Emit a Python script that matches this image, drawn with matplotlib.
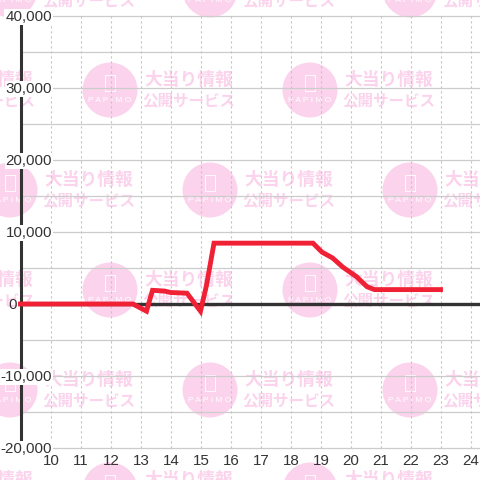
import matplotlib
matplotlib.use("Agg")
import matplotlib.pyplot as plt
from matplotlib.patches import Circle, Rectangle

# values
hours = [9, 12.75, 13.2, 13.4, 13.8, 14, 14.55, 15, 15.2, 15.45, 18.75,
         19.05, 19.4, 19.75, 20.2, 20.55, 20.8, 23]
values = [0, 0, -1000, 1900, 1800, 1600, 1500, -1000, 2600, 8450, 8450,
          7200, 6400, 5100, 3800, 2400, 2000, 2000]
x_ticks = list(range(10, 25))
y_ticks = [40000, 30000, 20000, 10000, 0, -10000, -20000]
y_grid = list(range(-20000, 40001, 5000))
stamp_centers = [(10, -10), (210, -10), (410, -10),
                 (-90, 90), (110, 90), (310, 90),
                 (10, 190), (210, 190), (410, 190),
                 (-90, 290), (110, 290), (310, 290),
                 (10, 390), (210, 390), (410, 390),
                 (-90, 490), (110, 490), (310, 490)]

PINK = "#FBD3EC"
DARK = "#333333"
SANS = "Liberation Sans"

fig = plt.figure(figsize=(4.8, 4.8), dpi=100)

# watermark layer works in pixels, y pointing down
bg = fig.add_axes([0, 0, 1, 1])
bg.set_xlim(0, 480)
bg.set_ylim(480, 0)
bg.axis("off")
for cx, cy in stamp_centers:
    bg.add_patch(Circle((cx, cy), 27.5, color=PINK, lw=0))
    bg.add_patch(Rectangle((cx - 5, cy - 15), 10, 16, fill=False, ec="white", lw=0.6))
    bg.text(cx, cy + 10, "P A P I M O", color="white", fontsize=6, ha="center", va="center",
            family=SANS, clip_on=True)
    bg.text(cx + 34, cy - 10, "大当り情報", color=PINK, fontsize=12.8, ha="left", va="center",
            family="Noto Sans CJK JP", fontweight="bold", clip_on=True)
    bg.text(cx + 32, cy + 10, "公開サービス", color=PINK, fontsize=11.2, ha="left", va="center",
            family="Noto Sans CJK JP", fontweight="bold", clip_on=True)

# chart layer, limits chosen so 30px = 1 hour and 72px = 10,000
ax = fig.add_axes([0, 0, 1, 1], facecolor="none")
ax.set_xlim(9 - 20.5 / 30, 10 + (480 - 50.5) / 30)
ax.set_ylim(-20000 - 32 / 72 * 10000, 40000 + 16 / 72 * 10000)
ax.axis("off")

ax.hlines(y_grid, 9, ax.get_xlim()[1], color="#CCCCCC", lw=0.9, zorder=1)
ax.vlines(x_ticks, -20000, 40000, color="#C4C4C4", lw=0.8, linestyles=(0, (2, 2.5)), zorder=1)
ax.vlines(9, -20000, 40000, color=DARK, lw=2.2, zorder=2)
ax.hlines(0, 9, ax.get_xlim()[1], color=DARK, lw=2.4, zorder=2)
ax.plot(hours, values, color="#F02035", lw=3.5, solid_joinstyle="miter", zorder=4)

# tick labels sit under the red line but hide the axis behind them
for v in y_ticks:
    if v == 0:
        # the zero label stays left of the axis in the reference
        ax.text(8.87, v - 150, "0", color=DARK, fontsize=10.9, family=SANS, ha="right", va="center",
                zorder=3)
        continue
    ax.text(10.05, v - 150, f"{v:,}", color=DARK, fontsize=10.9, family=SANS, ha="right", va="center",
            zorder=3, bbox=dict(fc="white", ec="none", pad=0.6))
for h in x_ticks:
    ax.text(h + 0.02, -21750, str(h), color=DARK, fontsize=10.9, family=SANS, ha="center", va="center",
            zorder=3)

fig.savefig("out.png", dpi=100)
